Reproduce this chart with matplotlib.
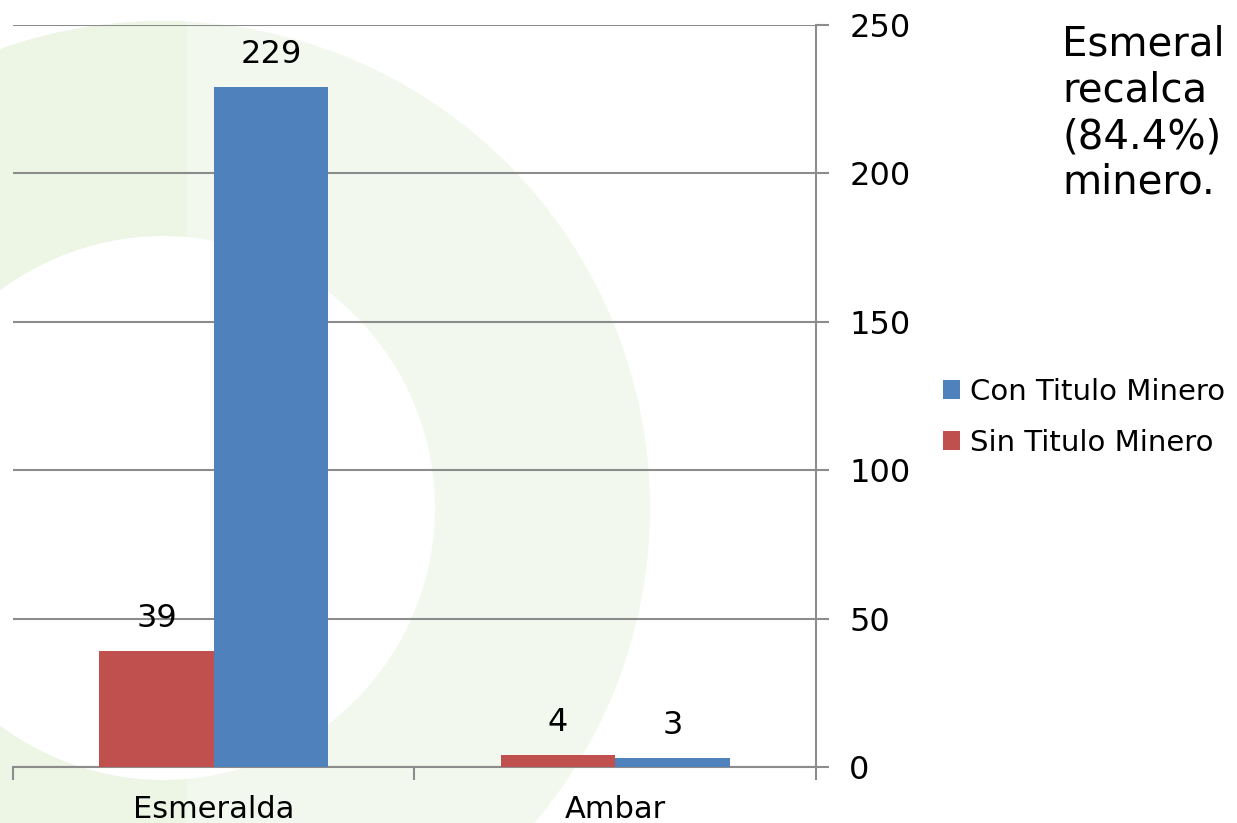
import matplotlib.pyplot as plt
from matplotlib.patches import Wedge, Rectangle
import numpy as np

plt.rcParams["font.family"] = ["DejaVu Sans"]

CATEGORIES = ["Esmeralda", "Ambar"]
SIN_TITULO = [39, 4]
CON_TITULO = [229, 3]
SERIES_LABELS = ["Con Titulo Minero", "Sin Titulo Minero"]
Y_TICKS = [0, 50, 100, 150, 200, 250]
SIDE_TEXT = ["Esmeral", "recalca", "(84.4%)", "minero."]

BLUE = "#4f81bd"
RED = "#c0504d"
GRID = "#8c8c8c"

W, H = 1237, 823
fig = plt.figure(figsize=(W / 100, H / 100), dpi=100)

# background ring, drawn in pixel coordinates
bg = fig.add_axes([0, 0, 1, 1], zorder=0)
bg.set_xlim(0, W)
bg.set_ylim(H, 0)
bg.axis("off")
cx, cy, r_out, r_in = 163, 508, 487, 272
bg.add_patch(Wedge((cx, cy), r_out, 0, 360, width=r_out - r_in,
                   facecolor="#f3f8ee", edgecolor="none"))
dark = Wedge((cx, cy), r_out, 0, 360, width=r_out - r_in,
             facecolor="#edf5e5", edgecolor="none")
bg.add_patch(dark)
clip = Rectangle((0, 0), 187, H, transform=bg.transData)
dark.set_clip_path(clip)

ax = fig.add_axes([13 / W, 1 - 767 / H, (816 - 13) / W, (767 - 25) / H], zorder=1)
ax.patch.set_alpha(0)

x = np.arange(len(CATEGORIES))
width = 0.285
bars_red = ax.bar(x - width / 2, SIN_TITULO, width, color=RED, zorder=3,
                  label=SERIES_LABELS[1])
bars_blue = ax.bar(x + width / 2, CON_TITULO, width, color=BLUE, zorder=3,
                   label=SERIES_LABELS[0])

for bars in (bars_red, bars_blue):
    for b in bars:
        ax.annotate(f"{b.get_height():.0f}",
                    (b.get_x() + b.get_width() / 2, b.get_height()),
                    xytext=(0, 23.5), textcoords="offset points",
                    ha="center", va="center", fontsize=23, color="black")

ax.set_xlim(-0.5, 1.5)
ax.set_ylim(0, 250)
ax.set_yticks(Y_TICKS)
ax.yaxis.tick_right()
ax.tick_params(axis="y", length=9, width=1.5, color=GRID, labelsize=23,
               pad=15)
ax.grid(axis="y", color=GRID, linewidth=1.5, zorder=1)

ax.set_xticks([-0.5, 0.5, 1.5])
ax.set_xticklabels([])
ax.set_xticks(x, minor=True)
ax.set_xticklabels(CATEGORIES, minor=True)
ax.tick_params(axis="x", which="major", length=9, width=1.5, color=GRID,
               direction="out")
ax.tick_params(axis="x", which="minor", length=0, labelsize=22, pad=20)

for side in ("top", "left"):
    ax.spines[side].set_visible(False)
for side in ("bottom", "right"):
    ax.spines[side].set_color(GRID)
    ax.spines[side].set_linewidth(1.5)

handles = [bars_blue, bars_red]
fig.legend(handles, SERIES_LABELS, loc="upper left",
           bbox_to_anchor=(928 / W, 1 - 363 / H), frameon=False,
           fontsize=21, handlelength=0.6, handleheight=0.6,
           handletextpad=0.35, labelspacing=0.8, borderpad=0)

for i, line in enumerate(SIDE_TEXT):
    fig.text(1062 / W, 1 - (56 + 46 * i) / H, line, fontsize=29,
             ha="left", va="baseline", color="black")

fig.savefig("out.png", dpi=100)
